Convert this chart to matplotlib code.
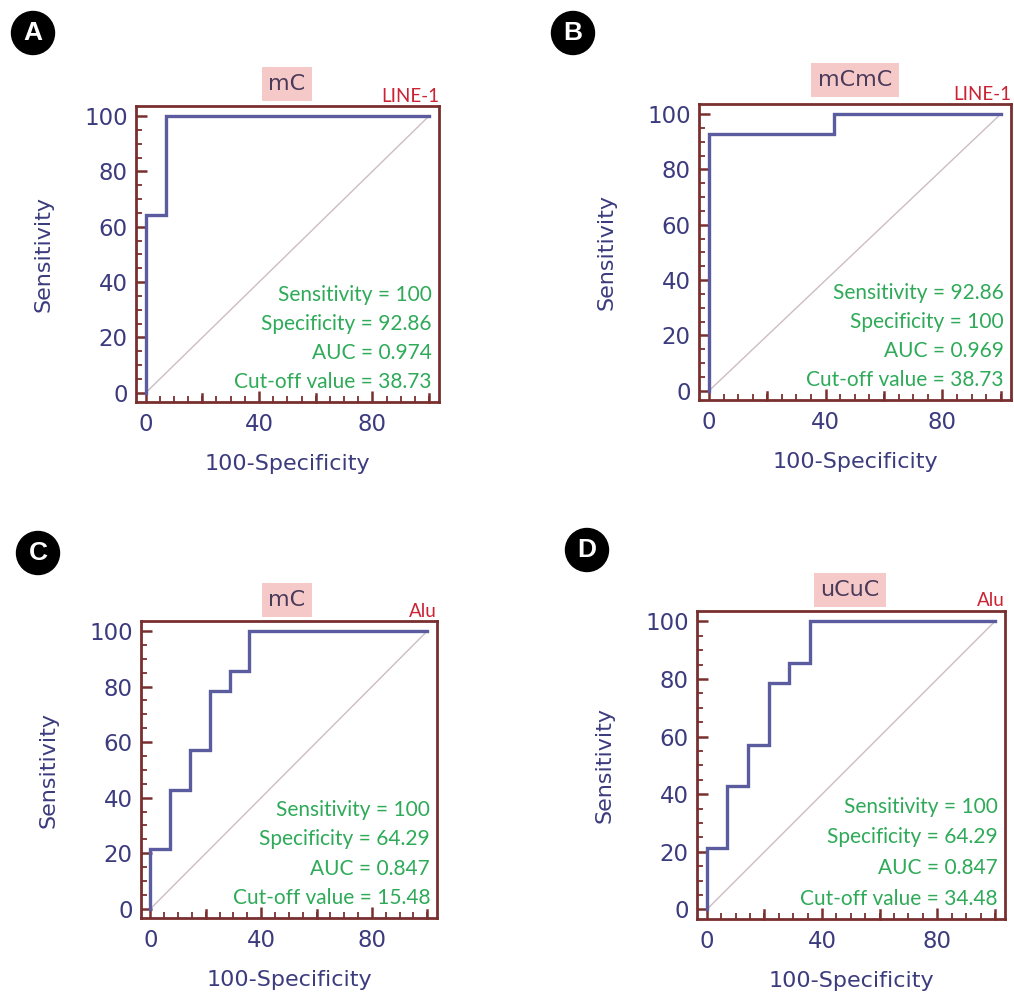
import matplotlib.pyplot as plt
from matplotlib.ticker import MultipleLocator, FixedLocator

# ROC curve points (100-Specificity, Sensitivity)
fpr_a = [0, 0, 7.14, 7.14, 100]
tpr_a = [0, 64.29, 64.29, 100, 100]

fpr_b = [0, 0, 42.86, 42.86, 100]
tpr_b = [0, 92.86, 92.86, 100, 100]

fpr_c = [0, 0, 7.14, 7.14, 14.29, 14.29, 21.43, 21.43, 28.57, 28.57, 35.71, 35.71, 100]
tpr_c = [0, 21.43, 21.43, 42.86, 42.86, 57.14, 57.14, 78.57, 78.57, 85.71, 85.71, 100, 100]

fpr_d = list(fpr_c)
tpr_d = list(tpr_c)

letters = ["A", "B", "C", "D"]
titles = ["mC", "mCmC", "mC", "uCuC"]
genes = ["LINE-1", "LINE-1", "Alu", "Alu"]
sens = ["100", "92.86", "100", "100"]
spec = ["92.86", "100", "64.29", "64.29"]
auc = ["0.974", "0.969", "0.847", "0.847"]
cutoff = ["38.73", "38.73", "15.48", "34.48"]

W, H = 1014, 998
# axes boxes in pixels (left, top, right, bottom)
boxes = [(136, 106, 439, 402), (699, 104, 1011, 400),
         (141, 621, 437, 918), (697, 611, 1005, 919)]
# letter circle centres in pixels
circles = [(33, 33), (573, 33), (38, 553), (587, 550)]
# title box centres
title_pos = [(287, 84), (855, 80), (287, 600), (850, 590)]

frame_col = "#7a2f2f"
navy = "#3b3b7e"
curve_col = "#5b5b9f"
green = "#2eaa58"
red = "#cc2233"

fig = plt.figure(figsize=(W / 100, H / 100), dpi=100)
fig.patch.set_facecolor("white")

curves = [(fpr_a, tpr_a), (fpr_b, tpr_b), (fpr_c, tpr_c), (fpr_d, tpr_d)]

for i in range(4):
    l, t, r, b = boxes[i]
    ax = fig.add_axes([l / W, 1 - b / H, (r - l) / W, (b - t) / H])
    x, y = curves[i]
    ax.plot([0, 100], [0, 100], color="#cdbcc4", lw=1.0, zorder=1)
    ax.plot(x, y, color=curve_col, lw=2.4, zorder=2, solid_joinstyle="miter")

    for sp in ax.spines.values():
        sp.set_color(frame_col)
        sp.set_linewidth(2.0)

    ax.xaxis.set_major_locator(FixedLocator([0, 40, 80]))
    ax.xaxis.set_minor_locator(MultipleLocator(5))
    ax.yaxis.set_major_locator(MultipleLocator(20))
    ax.yaxis.set_minor_locator(MultipleLocator(5))
    ax.tick_params(which="major", direction="in", length=8, width=1.8,
                   color=frame_col, labelcolor=navy, labelsize=16.5)
    ax.tick_params(axis="x", which="major", pad=8)
    ax.tick_params(axis="y", which="major", pad=6)
    ax.tick_params(which="minor", direction="in", length=4, width=1.3,
                   color=frame_col)
    # long ticks at 20, 60, 100 on x as well
    for xv in [20, 60, 100]:
        ax.plot([xv, xv], [-3.3, -0.3], color=frame_col, lw=1.8, clip_on=False, zorder=3)
    ax.set_xlim(-3.4, 103.5)
    ax.set_ylim(-3.3, 103.6)

    for lab in ax.get_xticklabels() + ax.get_yticklabels():
        lab.set_family("DejaVu Sans")

    ax.set_xlabel("100-Specificity", fontsize=16, color=navy,
                  family="DejaVu Sans", labelpad=13)
    ax.set_ylabel("Sensitivity", fontsize=16, color=navy,
                  family="DejaVu Sans", labelpad=22)

    stats = ["Sensitivity = " + sens[i], "Specificity = " + spec[i],
             "AUC = " + auc[i], "Cut-off value = " + cutoff[i]]
    ys = [35.5, 25.0, 14.3, 3.8]
    for s, yy in zip(stats, ys):
        ax.text(101, yy, s, color=green, fontsize=15, family="Lato",
                ha="right", va="center")

    ax.text(1.0, 1.005, genes[i], transform=ax.transAxes, color=red,
            fontsize=13.5, family="Lato", ha="right", va="bottom")

    tx, ty = title_pos[i]
    fig.text(tx / W, 1 - ty / H, titles[i], color="#4a3a5a", fontsize=16,
             family="DejaVu Sans", ha="center", va="center",
             bbox=dict(boxstyle="square,pad=0.3", fc="#f6c9c9", ec="none"))

    cx, cy = circles[i]
    fig.text(cx / W, 1 - cy / H, letters[i], color="white", fontsize=19,
             fontweight="bold", family="Liberation Sans", ha="center", va="center",
             bbox=dict(boxstyle="circle,pad=0.36", fc="black", ec="black"))

fig.savefig("out.png", dpi=100)
